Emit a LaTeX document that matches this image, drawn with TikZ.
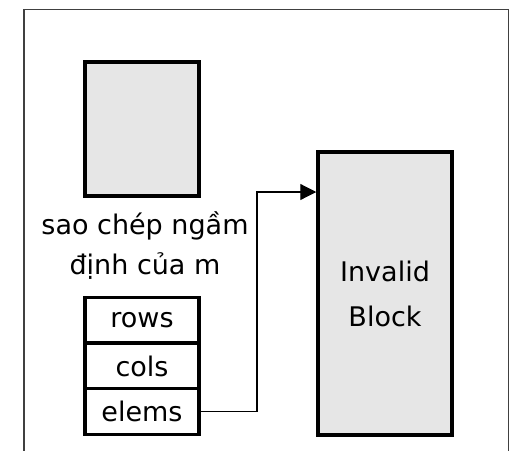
\documentclass[tikz,border=0pt]{standalone}
\usepackage{fontspec}
\setmainfont{DejaVu Sans}
\usepackage{xcolor}
\definecolor{blockgray}{HTML}{E6E6E6}
\definecolor{framegray}{HTML}{404040}
\usepackage{tikz}
\usetikzlibrary{calc, positioning, arrows.meta}

\begin{document}
\begin{tikzpicture}[
  x=1pt, y=-1pt,
  txt/.style={font=\fontsize{27}{40}\selectfont, inner sep=0pt},
  memblock/.style={draw, line width=3.5pt, fill=blockgray, inner sep=0pt},
  cell/.style={draw, line width=3.5pt, fill=white, minimum width=114pt, minimum height=45.7pt, inner sep=0pt, font=\fontsize{27}{34}\selectfont},
  arr/.style={-{Triangle[length=16pt, width=16pt]}, line width=1.2pt},
]
  \useasboundingbox (0,0) rectangle (510,450);
  \clip (0,0) rectangle (510,450);

  % Outer frame
  \draw[framegray, line width=1.5pt] (24,9.5) rectangle (508.5,470);

  % Block of the copy
  \node[memblock, minimum width=114pt, minimum height=134pt] (copyblk) at (142,129) {};
  \node[txt, align=center] (lbl) at (145,246) {sao chép ngầm\\định của m};

  % Record m
  \node[cell] (rows) at (142,320.5) {rows};
  \node[cell] (cols) at (142,366) {cols};
  \node[cell] (elems) at (142,411.5) {elems};

  % Invalid block
  \node[memblock, txt, minimum width=134pt, minimum height=283pt, align=center,
        font=\fontsize{27}{45}\selectfont] (invalid) at (385,293.5) {Invalid\\Block};

  % Pointer
  \coordinate (bend) at (257,192);
  \draw[arr] (elems.east) -| (bend) -- (bend -| invalid.west);
\end{tikzpicture}
\end{document}
